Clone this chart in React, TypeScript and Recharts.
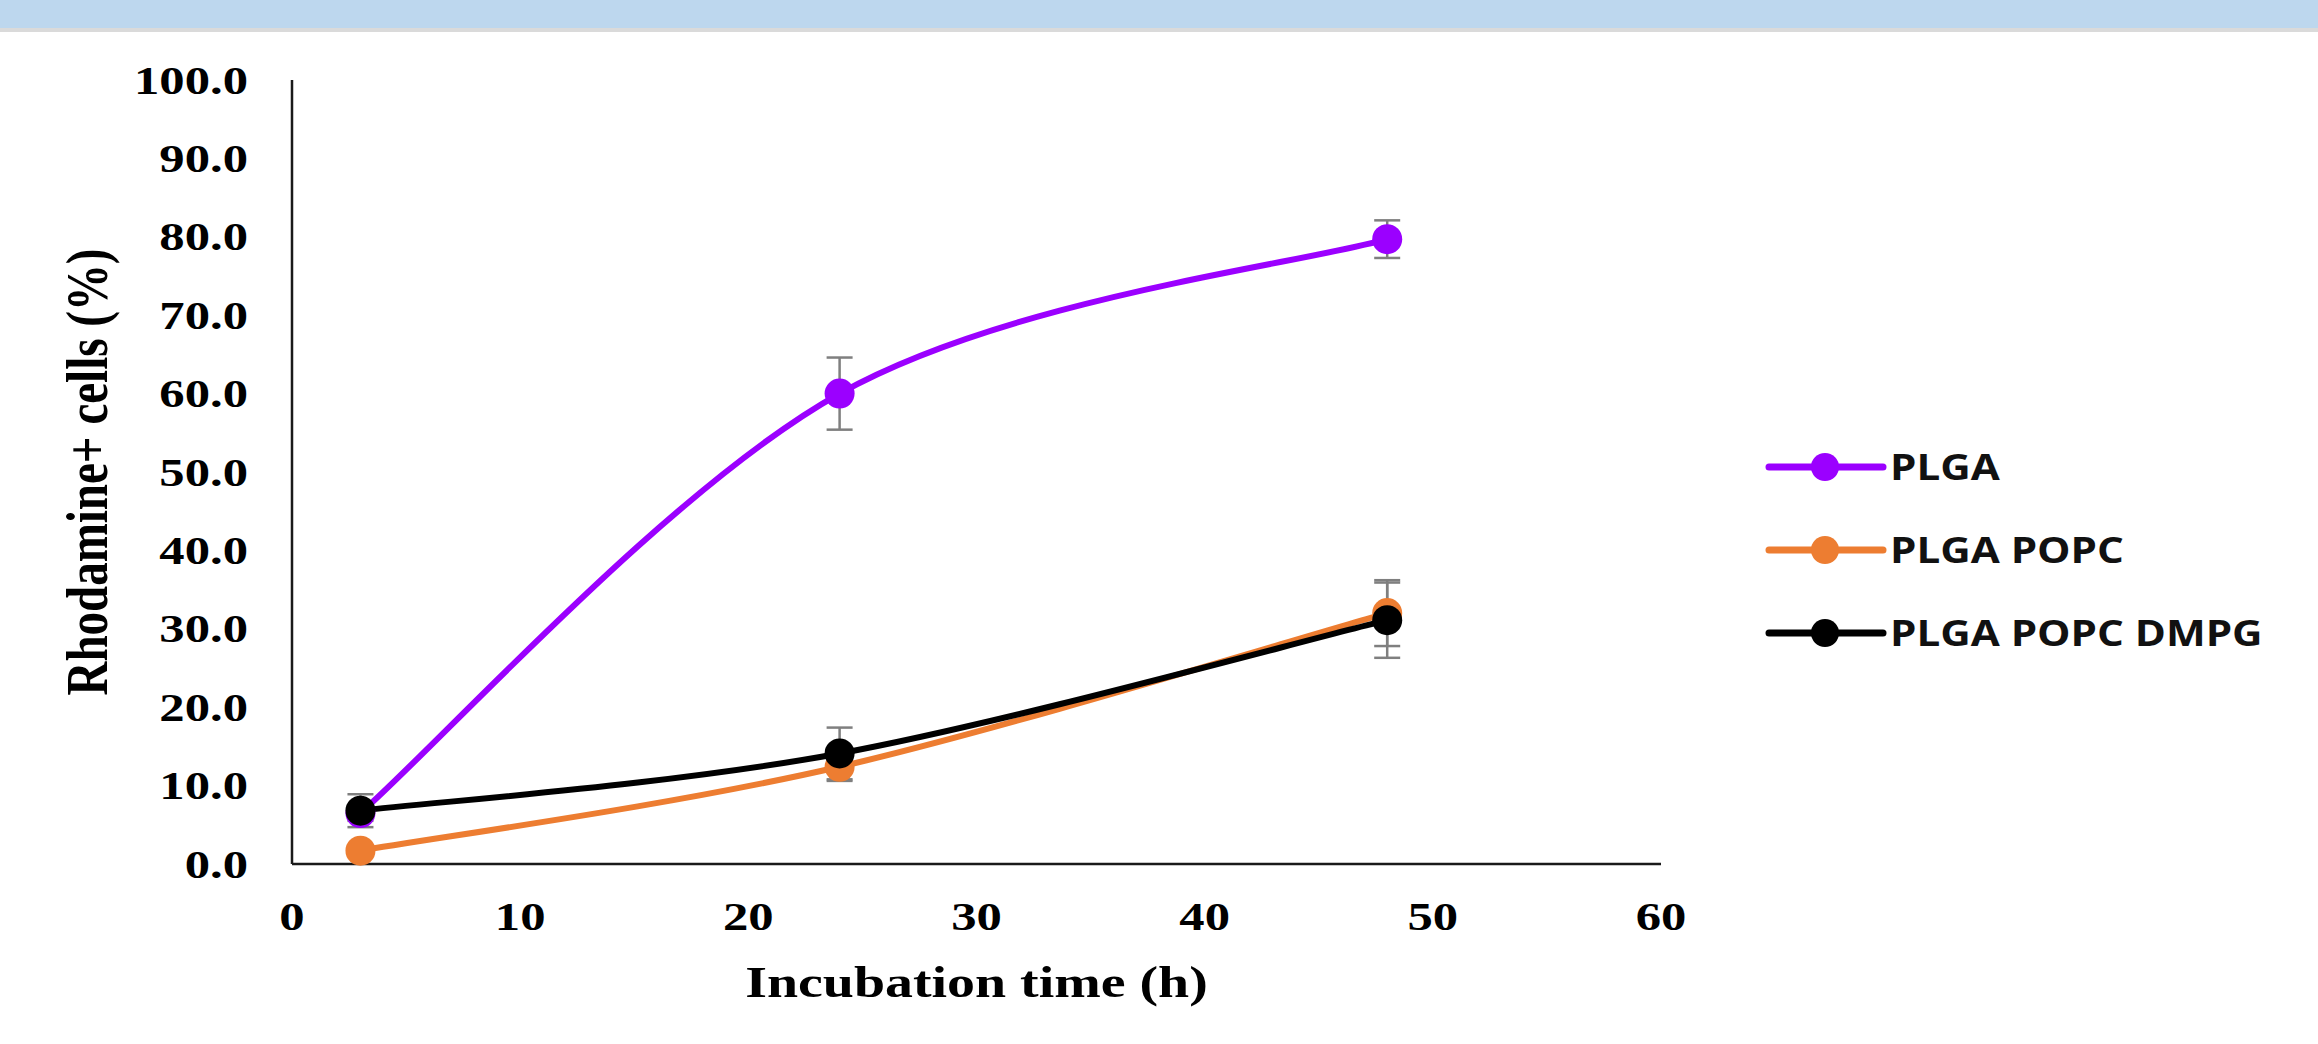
import { LineChart, Line, XAxis, YAxis, ErrorBar, Legend, Label } from "recharts";

// incubation time (h)
const HOURS = [3, 24, 48];

// Rhodamine+ cells (%) with error (±)
const PLGA = [6.5, 60.0, 79.7];
const PLGA_ERR = [1.0, 4.6, 2.4];
const PLGA_POPC = [1.7, 12.4, 32.0];
const PLGA_POPC_ERR = [0.5, 1.8, 4.2];
const PLGA_POPC_DMPG = [6.8, 14.1, 31.1];
const PLGA_POPC_DMPG_ERR = [2.1, 3.3, 4.8];

const X_TICKS = [0, 10, 20, 30, 40, 50, 60];
const Y_TICKS = [0, 10, 20, 30, 40, 50, 60, 70, 80, 90, 100];

const SERIF = "'Liberation Serif', 'Times New Roman', serif";
const SANS = "'Open Sans', 'Noto Sans', sans-serif";

const data = HOURS.map((t, i) => ({
  t,
  plga: PLGA[i],
  plgaErr: PLGA_ERR[i],
  popc: PLGA_POPC[i],
  popcErr: PLGA_POPC_ERR[i],
  dmpg: PLGA_POPC_DMPG[i],
  dmpgErr: PLGA_POPC_DMPG_ERR[i],
}));

// Excel-style "smoothed line": cubic bezier, control points at 1/6 of neighbour span
function excelSmooth(context: any) {
  let pts: number[][] = [];
  return {
    areaStart() {},
    areaEnd() {},
    lineStart() {
      pts = [];
    },
    point(x: number, y: number) {
      pts.push([+x, +y]);
    },
    lineEnd() {
      const n = pts.length;
      if (!n) return;
      context.moveTo(pts[0][0], pts[0][1]);
      for (let i = 0; i < n - 1; i++) {
        const p0 = pts[Math.max(i - 1, 0)];
        const p1 = pts[i];
        const p2 = pts[i + 1];
        const p3 = pts[Math.min(i + 2, n - 1)];
        context.bezierCurveTo(
          p1[0] + (p2[0] - p0[0]) / 6,
          p1[1] + (p2[1] - p0[1]) / 6,
          p2[0] - (p3[0] - p1[0]) / 6,
          p2[1] - (p3[1] - p1[1]) / 6,
          p2[0],
          p2[1]
        );
      }
    },
  };
}

const YTick = ({ x, y, payload }: any) => (
  <g transform={`translate(${x},${y}) scale(1.3,1)`}>
    <text
      textAnchor="end"
      dy="0.35em"
      fontFamily={SERIF}
      fontWeight="bold"
      fontSize={39}
      fill="#000"
    >
      {Number(payload.value).toFixed(1)}
    </text>
  </g>
);

const XTick = ({ x, y, payload }: any) => (
  <g transform={`translate(${x},${y + 66}) scale(1.3,1)`}>
    <text
      textAnchor="middle"
      fontFamily={SERIF}
      fontWeight="bold"
      fontSize={39}
      fill="#000"
    >
      {payload.value}
    </text>
  </g>
);

const XTitle = ({ viewBox }: any) => (
  <g
    transform={`translate(${viewBox.x + viewBox.width / 2},${viewBox.y + 133}) scale(1.27,1)`}
  >
    <text
      textAnchor="middle"
      fontFamily={SERIF}
      fontWeight="bold"
      fontSize={44}
      fill="#000"
    >
      Incubation time (h)
    </text>
  </g>
);

const YTitle = ({ viewBox }: any) => (
  <g
    transform={`translate(${viewBox.x + 15},${viewBox.y + viewBox.height / 2}) scale(1.25,1) rotate(-90)`}
  >
    <text
      textAnchor="middle"
      fontFamily={SERIF}
      fontWeight="bold"
      fontSize={47}
      fill="#000"
    >
      Rhodamine+ cells (%)
    </text>
  </g>
);

const renderLegend = ({ payload }: any) => (
  <svg width={578} height={260}>
    {(payload || []).map((p: any, i: number) => {
      const cy = 47 + i * 83;
      return (
        <g key={p.value}>
          <line
            x1={29}
            x2={143}
            y1={cy}
            y2={cy}
            stroke={p.color}
            strokeWidth={7}
            strokeLinecap="round"
          />
          <circle cx={85} cy={cy} r={14} fill={p.color} />
          <g transform={`translate(150,${cy + 13}) scale(1.17,1)`}>
            <text fontFamily={SANS} fontWeight={700} fontSize={36} fill="#111">
              {p.value}
            </text>
          </g>
        </g>
      );
    })}
  </svg>
);

const SERIES = [
  { key: "plga", err: "plgaErr", name: "PLGA", color: "#9B00FF" },
  { key: "popc", err: "popcErr", name: "PLGA POPC", color: "#ED7D31" },
  { key: "dmpg", err: "dmpgErr", name: "PLGA POPC DMPG", color: "#000000" },
];

export default function App() {
  return (
    <div
      style={{
        position: "absolute",
        left: 0,
        top: 0,
        width: 2318,
        height: 1044,
        background: "#fff",
        overflow: "hidden",
      }}
    >
      <div
        style={{
          position: "absolute",
          left: 0,
          top: 0,
          width: 2318,
          height: 28,
          background: "#BDD7EE",
          borderBottom: "4px solid #DADADA",
        }}
      />
      <LineChart
        width={2318}
        height={1044}
        data={data}
        margin={{ top: 80, right: 657, bottom: 60, left: 92 }}
      >
        <XAxis
          dataKey="t"
          type="number"
          domain={[0, 60]}
          ticks={X_TICKS}
          height={120}
          tickSize={0}
          tickMargin={0}
          tick={<XTick />}
          axisLine={{ stroke: "#1a1a1a", strokeWidth: 2.5 }}
          tickLine={false}
        >
          <Label content={<XTitle />} />
        </XAxis>
        <YAxis
          type="number"
          domain={[0, 100]}
          ticks={Y_TICKS}
          width={200}
          tickSize={0}
          tickMargin={44}
          tick={<YTick />}
          axisLine={{ stroke: "#1a1a1a", strokeWidth: 2.5 }}
          tickLine={false}
        >
          <Label content={<YTitle />} />
        </YAxis>
        <Legend
          layout="horizontal"
          verticalAlign="middle"
          align="center"
          width={578}
          height={260}
          wrapperStyle={{ left: 1740, top: 420, width: 578, height: 260 }}
          content={renderLegend}
        />
        {SERIES.map((s) => (
          <Line
            key={s.key}
            type={excelSmooth as any}
            dataKey={s.key}
            name={s.name}
            stroke={s.color}
            strokeWidth={6}
            dot={{ r: 15, fill: s.color, stroke: s.color, strokeWidth: 0 }}
            activeDot={false}
            isAnimationActive={false}
          >
            <ErrorBar
              dataKey={s.err}
              width={13}
              strokeWidth={2.5}
              stroke="#7F7F7F"
              direction="y"
            />
          </Line>
        ))}
      </LineChart>
    </div>
  );
}
